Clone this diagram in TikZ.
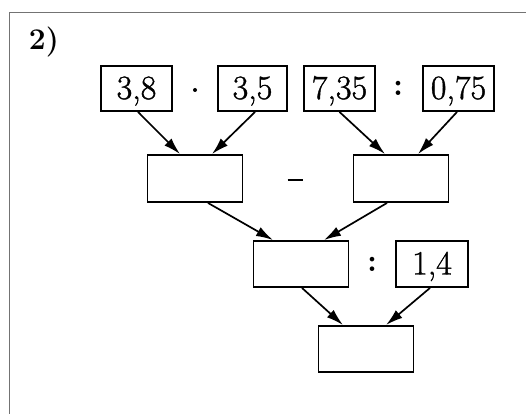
\documentclass[tikz,border=0pt]{standalone}
\usepackage{fontspec}
\newfontfamily\numfont{Latin Modern Roman}[FakeBold=1.2]
\usetikzlibrary{arrows.meta}
\begin{document}
\begin{tikzpicture}[x=1pt,y=-1pt,
  numbox/.style={draw,line width=1.9pt,inner sep=0pt,minimum height=45pt,
    text height=21pt,text depth=0pt,font=\numfont\fontsize{34}{40}\selectfont},
  blank/.style={draw,line width=1.9pt,inner sep=0pt,minimum width=95pt,minimum height=47pt},
  op/.style={inner sep=0pt,font=\fontsize{32}{38}\selectfont},
  arr/.style={line width=1.7pt,-{Latex[length=17pt,width=10pt]}},
  frame/.style={line width=0.7pt,black!55}]
\useasboundingbox (0,0) rectangle (526,414);
\draw[frame] (526,12.5) -- (9.5,12.5) -- (9.5,414);
\node[font=\fontsize{30}{36}\selectfont\bfseries] (lab) at (44,42) {2)};
% top row
\node[numbox,minimum width=71pt] (a) at (136.5,88.5) {3,8};
\node[circle,fill,inner sep=0pt,minimum size=4pt] (dot) at (195,90) {};
\node[numbox,minimum width=69pt] (b) at (252.5,88.5) {3,5};
\node[numbox,minimum width=71pt] (c) at (339.5,88.5) {7,35};
\node[op] (col1) at (398,88) {\textbf{:}};
\node[numbox,minimum width=71pt] (d) at (458.5,88.5) {0,75};
% middle row
\node[blank] (m1) at (195,178.5) {};
\node[inner sep=0pt] (minus) at (295,180) {\rule{15pt}{2.6pt}};
\node[blank] (m2) at (401,178.5) {};
% third row
\node[blank,minimum height=46pt] (t) at (301,264) {};
\node[op] (col2) at (372,264) {\textbf{:}};
\node[numbox,minimum width=72pt,minimum height=46pt] (e) at (432,264) {1,4};
% bottom
\node[blank,minimum height=46pt] (r) at (366,349) {};
% arrows
\draw[arr] ([xshift=1.5pt]a.south) -- ([xshift=-15pt]m1.north);
\draw[arr] ([xshift=2.5pt]b.south) -- ([xshift=17pt]m1.north);
\draw[arr] (c.south) -- ([xshift=-16pt]m2.north);
\draw[arr] ([xshift=-1.5pt]d.south) -- ([xshift=17pt]m2.north);
\draw[arr] ([xshift=13pt]m1.south) -- ([xshift=-28pt]t.north);
\draw[arr] ([xshift=-14pt]m2.south) -- ([xshift=23pt]t.north);
\draw[arr] ([xshift=1pt]t.south) -- ([xshift=-23pt]r.north);
\draw[arr] ([xshift=-2pt]e.south) -- ([xshift=20pt]r.north);
\end{tikzpicture}
\end{document}
